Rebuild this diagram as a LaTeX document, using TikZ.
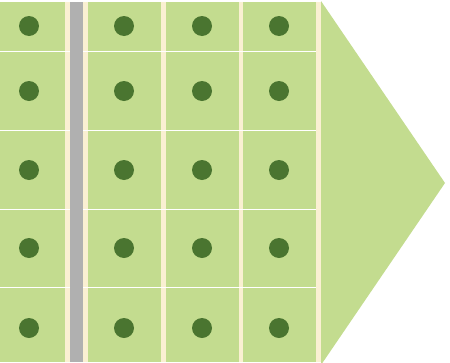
\documentclass[tikz,border=0pt]{standalone}
\usepackage{tikz}
\definecolor{leaf}{RGB}{195,220,143}
\definecolor{seed}{RGB}{74,117,48}
\definecolor{verge}{RGB}{250,240,210}
\definecolor{lane}{RGB}{176,176,176}

\begin{document}
\begin{tikzpicture}[x=1pt,y=-1pt,plant/.style={circle,fill=seed,minimum size=20pt,inner sep=0pt}]
\useasboundingbox (0,0) rectangle (450,362);
% beds and arrow
\fill[leaf] (0,2) rectangle (321,362);
\fill[leaf] (321,1) -- (445,183) -- (321,365) -- cycle;
% column gaps
\fill[verge] (65,2) rectangle (88,362);
\fill[lane] (70,2) rectangle (83,362);
\fill[verge] (161,2) rectangle (166,362);
\fill[verge] (239,2) rectangle (243,362);
\fill[verge] (316,2) rectangle (321,362);
% row lines
\foreach \r in {51.5,130.5,209.5,287.5}{
  \draw[white,line width=1.6pt] (0,\r) -- (70,\r);
  \draw[white,line width=1.6pt] (83,\r) -- (316,\r);
}
% plants
\foreach \c/\x in {1/29,2/124,3/202,4/279}
  \foreach \r/\y in {1/26,2/91,3/170,4/248,5/328}
    \node[plant] (p\c\r) at (\x,\y) {};
\end{tikzpicture}
\end{document}
